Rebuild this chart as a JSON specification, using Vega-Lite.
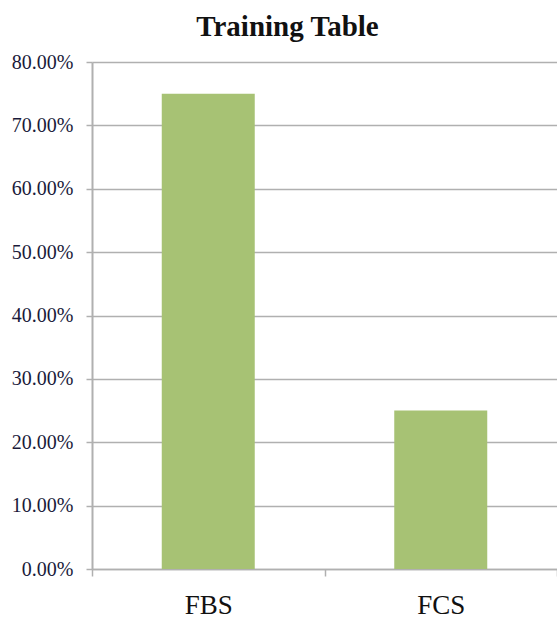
{
  "$schema": "https://vega.github.io/schema/vega-lite/v6.json",
  "autosize": "none",
  "padding": {"left": 92, "top": 62, "right": 0, "bottom": 52},
  "width": 465,
  "height": 507,
  "background": "white",
  "title": {
    "text": "Training Table",
    "font": "Liberation Serif",
    "fontSize": 29,
    "fontWeight": "bold",
    "color": "#111111",
    "anchor": "middle",
    "dx": -37,
    "offset": 10
  },
  "data": {
    "values": [
      {"division": "FBS", "share": 0.75},
      {"division": "FCS", "share": 0.25}
    ]
  },
  "mark": {"type": "bar", "color": "#a7c274", "width": {"band": 0.4}},
  "encoding": {
    "x": {
      "field": "division",
      "type": "nominal",
      "sort": null,
      "scale": {"paddingInner": 0, "paddingOuter": 0},
      "axis": {
        "title": null,
        "labelAngle": 0,
        "labelFont": "Liberation Serif",
        "labelFontSize": 27,
        "labelColor": "#111111",
        "labelPadding": 16,
        "tickBand": "extent",
        "tickColor": "#b0b0b0",
        "tickWidth": 1.5,
        "tickSize": 7,
        "domainColor": "#b0b0b0",
        "domainWidth": 1.5,
        "grid": false
      }
    },
    "y": {
      "field": "share",
      "type": "quantitative",
      "scale": {"domain": [0, 0.8], "nice": false},
      "axis": {
        "title": null,
        "format": ".2%",
        "values": [0, 0.1, 0.2, 0.3, 0.4, 0.5, 0.6, 0.7, 0.8],
        "labelFont": "Liberation Serif",
        "labelFontSize": 20,
        "labelColor": "#1a1a3a",
        "labelPadding": 13,
        "tickColor": "#b0b0b0",
        "tickWidth": 1.5,
        "tickSize": 6,
        "domainColor": "#b0b0b0",
        "domainWidth": 2,
        "grid": true,
        "gridColor": "#b0b0b0",
        "gridWidth": 1.5
      }
    }
  },
  "config": {"view": {"stroke": null}}
}
